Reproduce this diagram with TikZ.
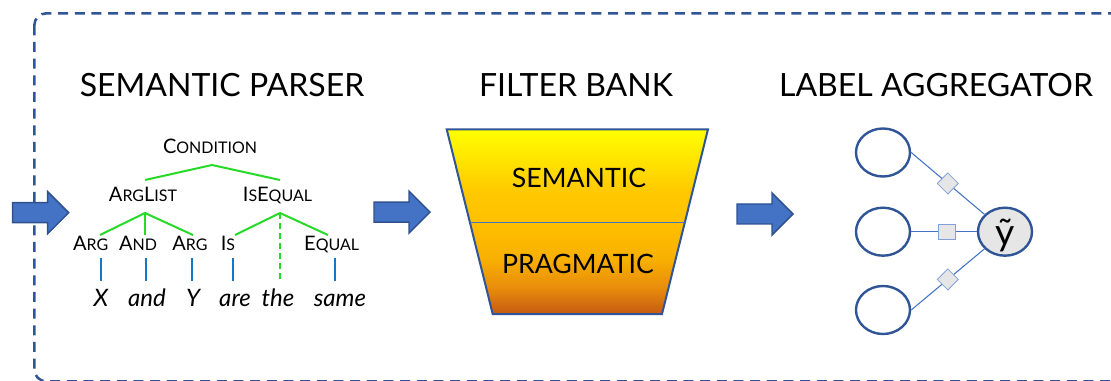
\documentclass[tikz,border=0pt]{standalone}
\usepackage{fontspec}
\setmainfont{Lato}
\usetikzlibrary{shapes.geometric}

\definecolor{framecol}{RGB}{47,85,151}
\definecolor{arrowfill}{RGB}{68,114,196}
\definecolor{arrowedge}{RGB}{47,82,143}
\definecolor{treegreen}{RGB}{40,218,40}
\definecolor{leafblue}{RGB}{20,120,200}
\definecolor{factorfill}{RGB}{231,230,230}
\definecolor{factoredge}{RGB}{130,160,215}
\definecolor{edgeblue}{RGB}{68,114,196}
\definecolor{fbA}{RGB}{197,90,17}
\definecolor{fbB}{RGB}{232,140,12}
\definecolor{fbC}{RGB}{248,176,0}
\definecolor{fbD}{RGB}{255,192,0}
\definecolor{fbE}{RGB}{255,200,0}
\definecolor{fbF}{RGB}{255,255,0}

% funnel colour ramp, bottom (25bp) to top (75bp)
\pgfdeclareverticalshading{funnel}{100bp}{%
  color(0bp)=(fbA); color(25bp)=(fbA); color(32bp)=(fbB); color(40bp)=(fbC);
  color(50bp)=(fbD); color(58bp)=(fbE); color(75bp)=(fbF); color(100bp)=(fbF)}

\newcommand\smc[2]{#1{\fontsize{12}{14}\selectfont #2}}

\begin{document}
\begin{tikzpicture}[x=0.75pt,y=-0.75pt,
  title/.style={font=\fontsize{24}{28}\selectfont, anchor=base, inner sep=0pt},
  tag/.style={font=\fontsize{15}{17}\selectfont, anchor=base, inner sep=0pt},
  word/.style={font=\fontsize{18}{20}\selectfont\itshape, anchor=base, inner sep=0pt},
  layer/.style={font=\fontsize{20}{24}\selectfont, anchor=base, inner sep=0pt},
  branch/.style={draw=treegreen, line width=1.5pt},
  leaf/.style={draw=leafblue, line width=1.5pt},
  flow/.style={fill=arrowfill, draw=arrowedge, line width=1.1pt, line join=miter},
  ell/.style={ellipse, draw=framecol, line width=1.8pt, minimum width=40.5pt, minimum height=36pt, inner sep=0pt},
  edge/.style={draw=edgeblue, line width=0.8pt},
  diam/.style={diamond, fill=factorfill, draw=factoredge, line width=0.6pt, minimum size=16pt, inner sep=0pt},
  sq/.style={rectangle, fill=factorfill, draw=factoredge, line width=0.6pt, minimum width=12.5pt, minimum height=11.5pt, inner sep=0pt}]

\useasboundingbox (0,0) rectangle (1111,381);
\clip (0,0) rectangle (1111,381);

% dashed outer frame, running off the right and bottom edges
\draw[framecol, line width=1.9pt, dash pattern=on 7.5pt off 5pt, rounded corners=9pt]
  (34.3,13.3) rectangle (1122,381.4);

% block arrows: left x, centre y
\newcommand\blockarrow[2]{%
  \draw[flow] (#1,#2-10) -- ++(35,0) -- ++(0,-11) -- ++(21,21) -- ++(-21,21)
    -- ++(0,-11) -- ++(-35,0) -- cycle;}
\blockarrow{12.7}{212.7}
\blockarrow{374}{212.2}
\blockarrow{737}{214}

% section titles
\node[title] (t1) at (222,96.5) {SEMANTIC PARSER};
\node[title] (t2) at (576,96.5) {FILTER BANK};
\node[title] (t3) at (936,96.5) {LABEL AGGREGATOR};

% ---- parse tree ----
\node[tag] (cond) at (210,154) {\smc{C}{ONDITION}};
\node[tag] (arglist) at (143,201.7) {\smc{A}{RG}\smc{L}{IST}};
\node[tag] (iseq) at (277.5,201.7) {\smc{I}{S}\smc{E}{QUAL}};
\node[tag] (arg1) at (90.7,251) {\smc{A}{RG}};
\node[tag] (and) at (138,251) {\smc{A}{ND}};
\node[tag] (arg2) at (190,251) {\smc{A}{RG}};
\node[tag] (is) at (228,251) {\smc{I}{S}};
\node[tag] (equal) at (331.7,251) {\smc{E}{QUAL}};

\node[word] (wX) at (101,306) {X};
\node[word] (wand) at (147,306) {and};
\node[word] (wY) at (193,306) {Y};
\node[word] (ware) at (235,306) {are};
\node[word] (wthe) at (278,306) {the};
\node[word] (wsame) at (340,306) {same};

\coordinate (condroot) at (212,165);
\coordinate (argltop) at (145,180);
\coordinate (iseqtop) at (280,180);
\coordinate (arglroot) at (145,213);
\coordinate (iseqroot) at (280,213);
\coordinate (arg1top) at (100,235);
\coordinate (andtop) at (145,235);
\coordinate (arg2top) at (193,235);
\coordinate (istop) at (235,235);
\coordinate (equaltop) at (328,235);
\coordinate (thetop) at (280,282);

\draw[branch] (argltop) -- (condroot) -- (iseqtop);
\draw[branch] (arg1top) -- (arglroot) -- (arg2top);
\draw[branch] (arglroot) -- (andtop);
\draw[branch] (istop) -- (iseqroot) -- (equaltop);
\draw[branch, dash pattern=on 4.5pt off 3pt] (iseqroot) -- (thetop);

\foreach \lx/\nm in {100.7/a, 146/b, 192/c, 233/d, 335/e}{
  \coordinate (leaf\nm top) at (\lx,257.7);
  \coordinate (leaf\nm bot) at (\lx,280.7);
  \draw[leaf] (leaf\nm top) -- (leaf\nm bot);
}

% ---- filter bank ----
\shadedraw[shading=funnel, draw=framecol, line width=1.5pt, line join=miter]
  (446.7,129.3) -- (708,129.3) -- (662,314) -- (492.7,314) -- cycle;
\draw[edgeblue, line width=1pt] (470,222.7) -- (684.7,222.7);
\node[layer] (sem) at (579,187.3) {SEMANTIC};
\node[layer] (prag) at (578,273.6) {PRAGMATIC};

% ---- label aggregator ----
\node[ell] (e1) at (883,152.5) {};
\node[ell] (e2) at (883,231.7) {};
\node[ell] (e3) at (883,310) {};
\node[ell, fill=factorfill] (yt) at (1005,231.7) {};
\node[font=\fontsize{28}{30}\selectfont, inner sep=0pt] (ytlabel) at (1005,235) {ỹ};

\draw[edge] (e1.east) -- node[diam, pos=0.5] (f1) {} (yt);
\draw[edge] (e2.east) -- node[sq, pos=0.54] (f2) {} (yt);
\draw[edge] (e3.east) -- node[diam, pos=0.5] (f3) {} (yt);
\end{tikzpicture}
\end{document}
